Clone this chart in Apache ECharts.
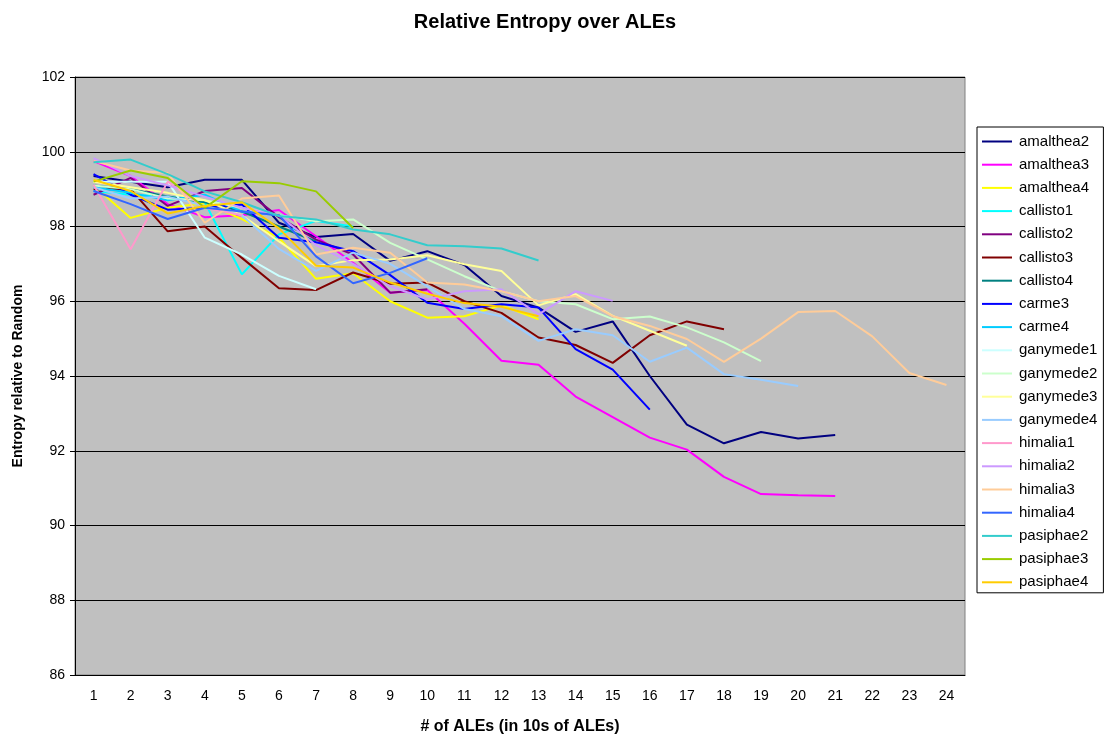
<!DOCTYPE html>
<html>
<head>
<meta charset="utf-8">
<script src="https://cdn.jsdelivr.net/npm/echarts@6/dist/echarts.min.js"></script>
<style>
  html, body { margin: 0; padding: 0; background: #fff; }
  #chart { width: 1106px; height: 740px; }
</style>
</head>
<body>
<div id="chart"></div>
<script>
// x categories (in 10s of ALEs)
const steps = ['1','2','3','4','5','6','7','8','9','10','11','12','13','14','15','16','17','18','19','20','21','22','23','24'];

// entropy relative to random
const amalthea2 = [99.35, 99.2, 99.05, 99.25, 99.25, 98.1, 97.72, 97.8, 97.08, 97.34, 96.97, 96.14, 95.83, 95.18, 95.46, 94.0, 92.7, 92.2, 92.5, 92.33, 92.42];
const amalthea3 = [99.75, 99.35, 98.6, 98.25, 98.3, 98.44, 97.74, 97.03, 96.23, 96.3, 95.4, 94.41, 94.3, 93.45, 92.9, 92.35, 92.03, 91.3, 90.84, 90.81, 90.79];
const amalthea4 = [99.1, 98.23, 98.5, 98.62, 98.2, 97.7, 96.6, 96.75, 96.0, 95.56, 95.6, 95.89, 95.52];
const callisto1 = [98.95, 98.85, 98.8, 98.65, 96.72, 97.79, 98.15, 98.0];
const callisto2 = [98.85, 99.3, 98.55, 98.95, 99.03, 98.25, 97.65, 97.25, 96.23, 96.32];
const callisto3 = [99.0, 99.0, 97.87, 98.0, 97.16, 96.35, 96.3, 96.77, 96.47, 96.5, 96.0, 95.69, 95.03, 94.83, 94.35, 95.09, 95.46, 95.25];
const callisto4 = [99.1, 99.0, 98.8, 98.65, 98.4, 98.0, 97.6];
const carme3 = [99.4, 98.85, 98.45, 98.5, 98.59, 97.7, 97.58, 97.34, 96.7, 95.96, 95.79, 95.92, 95.83, 94.72, 94.17, 93.1];
const carme4 = [99.05, 98.9, 98.7, 98.85, 98.4, 98.3, 98.15];
const ganymede1 = [99.2, 99.2, 99.2, 97.7, 97.25, 96.68, 96.32];
const ganymede2 = [99.1, 99.0, 98.75, 98.7, 98.5, 98.3, 98.14, 98.19, 97.56, 97.12, 96.67, 96.27, 96.0, 95.92, 95.52, 95.59, 95.3, 94.9, 94.4];
const ganymede3 = [99.2, 99.05, 98.9, 98.7, 98.3, 97.6, 96.94, 97.1, 97.12, 97.23, 96.99, 96.81, 95.89, 96.19, 95.61, 95.21, 94.81];
const ganymede4 = [99.05, 98.75, 98.8, 98.55, 98.3, 97.4, 96.81, 97.3, 97.0, 96.4, 95.79, 95.6, 94.94, 95.25, 95.09, 94.38, 94.76, 94.05, 93.9, 93.73];
const himalia1 = [99.12, 97.39, 99.2, 98.5, 98.3];
const himalia2 = [99.83, 99.35, 99.1, 98.8, 98.5, 98.3, 97.5, 97.0, 96.4, 96.05, 96.27, 96.32, 95.65, 96.27, 96.01];
const himalia3 = [99.75, 99.5, 99.43, 98.1, 98.75, 98.83, 97.25, 97.43, 97.3, 96.5, 96.45, 96.27, 96.0, 96.14, 95.6, 95.34, 94.99, 94.38, 95.0, 95.71, 95.74, 95.06, 94.08, 93.76];
const himalia4 = [98.95, 98.6, 98.2, 98.5, 98.4, 98.3, 97.2, 96.48, 96.76, 97.15];
const pasiphae2 = [99.72, 99.79, 99.4, 98.94, 98.65, 98.28, 98.19, 97.92, 97.79, 97.5, 97.47, 97.41, 97.09];
const pasiphae3 = [99.2, 99.5, 99.3, 98.5, 99.21, 99.16, 98.94, 97.96];
const pasiphae4 = [99.25, 98.95, 98.35, 98.55, 98.65, 97.95, 96.95, 96.9, 96.5, 96.2, 95.95, 95.85, 95.6];

const names = ['amalthea2','amalthea3','amalthea4','callisto1','callisto2','callisto3','callisto4','carme3','carme4',
  'ganymede1','ganymede2','ganymede3','ganymede4','himalia1','himalia2','himalia3','himalia4','pasiphae2','pasiphae3','pasiphae4'];
const values = [amalthea2, amalthea3, amalthea4, callisto1, callisto2, callisto3, callisto4, carme3, carme4,
  ganymede1, ganymede2, ganymede3, ganymede4, himalia1, himalia2, himalia3, himalia4, pasiphae2, pasiphae3, pasiphae4];
const colors = ['#000080','#FF00FF','#FFFF00','#00FFFF','#800080','#800000','#008080','#0000FF','#00CCFF',
  '#CCFFFF','#CCFFCC','#FFFF99','#99CCFF','#FF99CC','#CC99FF','#FFCC99','#3366FF','#33CCCC','#99CC00','#FFCC00'];

const font = 'Liberation Sans, Arial, sans-serif';

let myChart = echarts.init(document.getElementById('chart'));
let option = {
    animation: false,
    color: colors,
    title: {
        text: 'Relative Entropy over ALEs',
        left: 540,
        top: 7,
        textAlign: 'center',
        textStyle: { fontFamily: font, fontSize: 20, fontWeight: 'bold', color: '#000' }
    },
    legend: {
        orient: 'vertical',
        left: 977,
        top: 127,
        icon: 'rect',
        itemWidth: 30,
        itemHeight: 2,
        itemGap: 8.2,
        padding: [7, 6, 3, 5],
        backgroundColor: '#fff',
        borderColor: '#000',
        borderWidth: 1,
        borderRadius: 0,
        textStyle: { fontFamily: font, fontSize: 15, lineHeight: 13, color: '#000', padding: [0, 0, 0, 2] },
        data: names
    },
    grid: {
        left: 75,
        right: 141,
        top: 77,
        bottom: 63,
        show: true,
        backgroundColor: '#C0C0C0',
        borderColor: '#808080',
        borderWidth: 1
    },
    xAxis: {
        type: 'category',
        data: steps,
        boundaryGap: true,
        name: '# of ALEs (in 10s of ALEs)',
        nameLocation: 'middle',
        nameGap: 44,
        nameTextStyle: { fontFamily: font, fontSize: 16, fontWeight: 'bold', color: '#000' },
        axisLine: { lineStyle: { color: '#000' } },
        axisTick: { length: 5, lineStyle: { color: '#000' } },
        axisLabel: { fontFamily: font, fontSize: 14, color: '#000', margin: 14 },
        splitLine: { show: false }
    },
    yAxis: {
        type: 'value',
        min: 86,
        max: 102,
        interval: 2,
        name: 'Entropy relative to Random',
        nameLocation: 'middle',
        nameGap: 50,
        nameTextStyle: { fontFamily: font, fontSize: 14, fontWeight: 'bold', color: '#000' },
        axisLine: { show: true, lineStyle: { color: '#000' } },
        axisTick: { show: true, length: 5, lineStyle: { color: '#000' } },
        axisLabel: { fontFamily: font, fontSize: 14, color: '#000', margin: 10 },
        splitLine: { lineStyle: { color: '#000', width: 1 } }
    },
    series: names.map(function(n, i) {
        return {
            name: n,
            type: 'line',
            data: values[i],
            symbol: 'none',
            lineStyle: { width: 2, color: colors[i] },
            itemStyle: { color: colors[i] }
        };
    })
};
myChart.setOption(option);
</script>
</body>
</html>
